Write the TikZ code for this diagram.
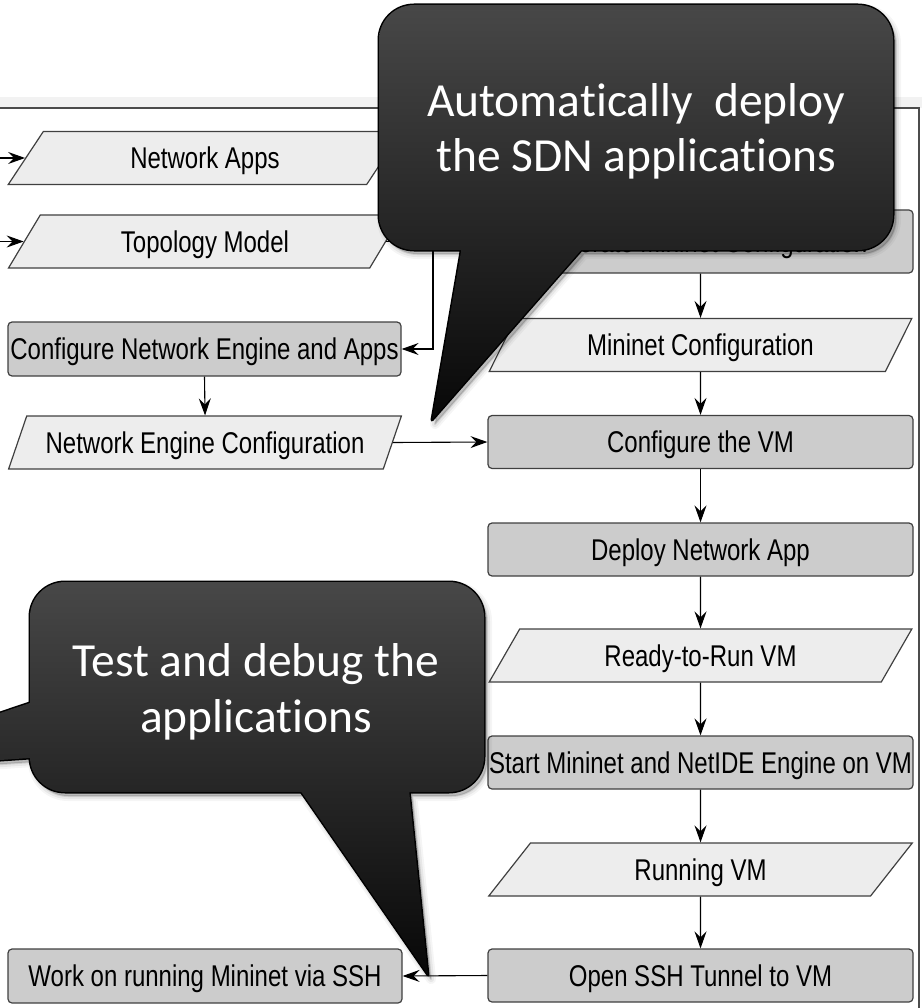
\documentclass[tikz,border=0pt]{standalone}
\usepackage{fontspec}
\newfontfamily\boxfont{Liberation Sans}[FakeStretch=0.8]
\newfontfamily\notefont{Carlito}[Ligatures={NoCommon,NoRequired,NoContextual}]
\usetikzlibrary{shapes.geometric,arrows.meta}

\begin{document}
\begin{tikzpicture}[x=1pt,y=-1pt,
  boxtext/.style={font=\boxfont\fontsize{30}{36}\selectfont, text=black,
    text height=21.5pt, text depth=0pt},
  proc/.style={boxtext, draw=black!75, line width=1.2pt, fill=gray!40,
    rounded corners=4pt, minimum width=425pt, minimum height=53pt, inner sep=0pt},
  data/.style={boxtext, trapezium, trapezium left angle=53, trapezium right angle=127,
    trapezium stretches=true, draw=black!75, line width=1.2pt, fill=gray!14,
    minimum width=424pt, minimum height=53pt, inner sep=0pt},
  flow/.style={-{Stealth[length=17pt,width=12pt,inset=6pt]}, line width=1.1pt, black},
  note/.style={text=white, font=\notefont\fontsize{47.5}{55}\selectfont, anchor=base, inner sep=0pt},
  bubble/.style={top color=black!72, bottom color=black!97},
]
\useasboundingbox (0,0) rectangle (922,1008);
\clip (0,0) rectangle (922,1008);

% lane frame
\fill[gray!10] (0,97) rectangle (922,108);
\draw[black!70, line width=1.2pt] (0,108) -- (919,108) -- (919,1010);

% left column
\node[data, minimum width=394pt] (NA) at (205,158) {Network Apps};
\node[data, minimum width=394pt] (TM) at (205,241.5) {Topology Model};
\node[proc, minimum width=393pt, minimum height=54pt] (CNE) at (204.5,349) {Configure Network Engine and Apps};
\node[data, minimum width=394pt] (NEC) at (205,442.5) {Network Engine Configuration};
\node[proc, minimum width=394pt, minimum height=54pt] (WOR) at (205,976) {Work on running Mininet via SSH};

% right column
\node[proc, minimum height=63pt] (GMC) at (700.5,241.5) {Generate Mininet Configuration};
\node[data] (MC) at (700.5,345) {Mininet Configuration};
\node[proc] (CVM) at (700.5,442) {Configure the VM};
\node[proc] (DNA) at (700.5,549.5) {Deploy Network App};
\node[data] (RVM) at (700.5,655.5) {Ready-to-Run VM};
\node[proc] (SM) at (700.5,762.5) {Start Mininet and NetIDE Engine on VM};
\node[data] (RUN) at (700.5,869.5) {Running VM};
\node[proc] (OS) at (700.5,975.5) {Open SSH Tunnel to VM};

% connectors
\coordinate (in1) at (0,158);
\coordinate (in2) at (0,241.5);
\coordinate (j1) at (433,158);
\draw[flow] (in1) -- (NA.left side);
\draw[flow] (in2) -- (TM.left side);
\draw[flow] (NA.right side) -- (j1) |- (CNE.east);
\draw[flow] (TM.right side) -- (GMC.west);
\draw[flow] (CNE.south) -- (NEC.north);
\draw[flow] (NEC.right side) -- (CVM.west);
\draw[flow] (GMC.south) -- (MC.north);
\draw[flow] (MC.south) -- (CVM.north);
\draw[flow] (CVM.south) -- (DNA.north);
\draw[flow] (DNA.south) -- (RVM.north);
\draw[flow] (RVM.south) -- (SM.north);
\draw[flow] (SM.south) -- (RUN.north);
\draw[flow] (RUN.south) -- (OS.north);
\draw[flow] (OS.west) -- (WOR.east);

% upper speech bubble
\def\bubbleA{[rounded corners=35pt] (379,5) -- (893,5) -- (893,250) -- (379,250) -- cycle
  [sharp corners] (463,240) -- (590,240) -- (432,420) -- cycle}
\foreach \w/\o in {10/0.04,6/0.06,2/0.10}
  \path[xshift=3pt, yshift=-4pt, fill=black, fill opacity=\o, draw=black,
        draw opacity=\o, line width=\w pt, line join=round] \bubbleA;
\draw[black, line width=3pt, line join=round] \bubbleA;
\shade[bubble] \bubbleA;
\node[note] (n1a) at (636,117) {Automatically\ \ deploy};
\node[note] (n1b) at (636,172) {the SDN applications};

% lower speech bubble
\def\bubbleB{[rounded corners=35pt] (30,582) -- (484,582) -- (484,792) -- (30,792) -- cycle
  [sharp corners] (293,780) -- (408,780) -- (428,975) -- cycle
  (-176,772) -- (40,699.6) -- (40,757.3) -- cycle}
\foreach \w/\o in {10/0.04,6/0.06,2/0.10}
  \path[xshift=3pt, yshift=-4pt, fill=black, fill opacity=\o, draw=black,
        draw opacity=\o, line width=\w pt, line join=round] \bubbleB;
\draw[black, line width=3pt, line join=round] \bubbleB;
\shade[bubble] \bubbleB;
\node[note] (n2a) at (256,676) {Test and debug the};
\node[note] (n2b) at (256,732) {applications};
\end{tikzpicture}
\end{document}
